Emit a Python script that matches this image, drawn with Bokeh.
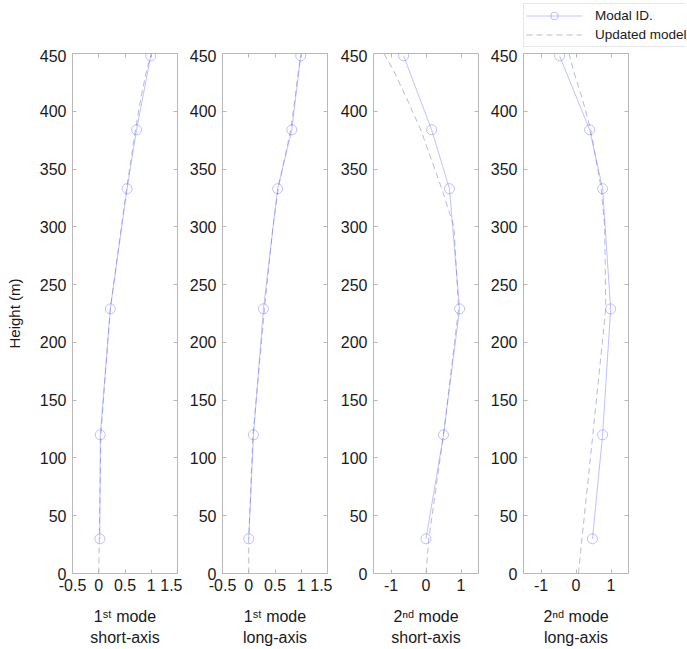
from bokeh.plotting import figure
from bokeh.layouts import row, column
from bokeh.models import (LinearAxis, Range1d, Legend, LegendItem,
                          FixedTicker, CustomJSTickFormatter, CustomLabelingPolicy)
from bokeh.embed import file_html
from bokeh.resources import INLINE

# ---------------- data ----------------
heights_id = [30, 120, 229, 333, 384, 448]
mode1_short_id = [0.02, 0.03, 0.22, 0.54, 0.72, 0.99]
mode1_long_id = [0.00, 0.09, 0.28, 0.55, 0.82, 0.99]
mode2_short_id = [0.00, 0.50, 0.96, 0.67, 0.16, -0.64]
mode2_long_id = [0.47, 0.76, 0.99, 0.76, 0.39, -0.47]

heights_upd = [0, 30, 120, 229, 300, 333, 384, 411, 433, 450]
mode1_short_upd = [0.00, 0.01, 0.04, 0.22, 0.43, 0.53, 0.70, 0.80, 0.90, 1.00]
mode1_long_upd = [0.00, 0.00, 0.08, 0.30, 0.46, 0.56, 0.80, 0.88, 0.94, 1.00]
mode2_short_upd = [0.00, 0.08, 0.50, 0.93, 0.80, 0.45, -0.15, -0.55, -0.89, -1.20]
mode2_long_upd = [0.07, 0.17, 0.48, 0.85, 0.82, 0.72, 0.42, 0.18, -0.05, -0.20]

y_ticks = [0, 50, 100, 150, 200, 250, 300, 350, 400, 450]
x_ticks_mode1 = [-0.5, 0, 0.5, 1, 1.5]
x_ticks_mode2 = [-1, 0, 1]
x_range_mode1 = (-0.5, 1.5)
x_range_mode2 = (-1.5, 1.5)

x_labels = ["1\u02e2\u1d57 mode\nshort-axis", "1\u02e2\u1d57 mode\nlong-axis",
            "2\u207f\u1d48 mode\nshort-axis", "2\u207f\u1d48 mode\nlong-axis"]
legend_labels = ["Modal ID.", "Updated model"]

panels = [
    dict(idv=mode1_short_id, upd=mode1_short_upd, xr=x_range_mode1, xt=x_ticks_mode1),
    dict(idv=mode1_long_id, upd=mode1_long_upd, xr=x_range_mode1, xt=x_ticks_mode1),
    dict(idv=mode2_short_id, upd=mode2_short_upd, xr=x_range_mode2, xt=x_ticks_mode2),
    dict(idv=mode2_long_id, upd=mode2_long_upd, xr=x_range_mode2, xt=x_ticks_mode2),
]

FONT = "Liberation Sans"
TXT = "#1a1a1a"
BOX = "#b8b8b8"
ID_COLOR = "#6a6aff"
UPD_COLOR = "#8080c0"
ID_ALPHA = 0.42
UPD_ALPHA = 0.55

left_borders = [72, 40, 41, 40]
right_borders = [5, 5, 5, 53]

NO_LABELS = CustomLabelingPolicy(code="""
const arr = Array.from(indices);
for (const i of arr) { indices.unset(i); }
return indices;
""")


def style_axis(ax, labels=True):
    ax.axis_line_color = None
    ax.major_tick_line_color = BOX
    ax.major_tick_in = 4
    ax.major_tick_out = 0
    ax.minor_tick_line_color = None
    ax.major_label_text_font = FONT
    ax.major_label_text_color = TXT
    if labels:
        ax.major_label_text_font_size = "16px"
    else:
        ax.major_label_policy = NO_LABELS
        ax.major_label_text_font_size = "1px"
        ax.major_label_standoff = 0


figs = []
for i, pn in enumerate(panels):
    p = figure(output_backend="svg", toolbar_location=None,
               frame_width=105, frame_height=520,
               x_range=Range1d(*pn["xr"]), y_range=Range1d(0, 450),
               min_border_left=left_borders[i], min_border_right=right_borders[i],
               min_border_top=0, min_border_bottom=76,
               x_axis_location=None, y_axis_location=None)
    p.grid.visible = False
    p.outline_line_color = BOX
    p.background_fill_color = "white"
    p.border_fill_color = "white"

    fmt = CustomJSTickFormatter(code="return String(tick);")
    xa = LinearAxis(ticker=FixedTicker(ticks=pn["xt"]), formatter=fmt)
    ya = LinearAxis(ticker=FixedTicker(ticks=y_ticks))
    style_axis(xa)
    style_axis(ya)
    xa.major_label_standoff = 5
    ya.major_label_standoff = 6
    xa.axis_label = x_labels[i]
    xa.axis_label_text_font = FONT
    xa.axis_label_text_font_size = "16px"
    xa.axis_label_text_font_style = "normal"
    xa.axis_label_text_color = TXT
    xa.axis_label_standoff = 14
    xa.axis_label_text_line_height = 1.25
    if i == 0:
        ya.axis_label = "Height (m)"
        ya.axis_label_text_font = FONT
        ya.axis_label_text_font_size = "15px"
        ya.axis_label_text_font_style = "normal"
        ya.axis_label_text_color = TXT
        ya.axis_label_standoff = 14
    p.add_layout(xa, "below")
    p.add_layout(ya, "left")

    xt = LinearAxis(ticker=FixedTicker(ticks=pn["xt"]))
    yr = LinearAxis(ticker=FixedTicker(ticks=y_ticks))
    style_axis(xt, labels=False)
    style_axis(yr, labels=False)
    p.add_layout(xt, "above")
    p.add_layout(yr, "right")

    p.line(pn["upd"], heights_upd, line_color=UPD_COLOR,
           line_dash="6 4", line_width=1, line_alpha=UPD_ALPHA)
    p.line(pn["idv"], heights_id, line_color=ID_COLOR, line_width=1, line_alpha=ID_ALPHA)
    p.scatter(pn["idv"], heights_id, marker="circle", size=10,
              fill_color=None, line_color=ID_COLOR, line_alpha=ID_ALPHA)
    figs.append(p)

# ---------- legend strip above the panels ----------
# Its renderers hold real series data but the view window is kept off the data,
# so only the legend (with its glyph samples) is visible.
lf = figure(output_backend="svg", toolbar_location=None,
            frame_width=166, frame_height=49,
            min_border_left=520, min_border_right=0,
            min_border_top=0, min_border_bottom=0,
            x_range=Range1d(0, 1), y_range=Range1d(-2000, -1000),
            x_axis_location=None, y_axis_location=None)
lf.grid.visible = False
lf.outline_line_color = None
lf.border_fill_color = "white"
lf.background_fill_color = "white"
r_id_line = lf.line(mode2_long_id, heights_id, line_color=ID_COLOR, line_width=1,
                    line_alpha=ID_ALPHA)
r_id_pts = lf.scatter(mode2_long_id, heights_id, marker="circle", size=10, fill_color=None,
                      line_color=ID_COLOR, line_alpha=ID_ALPHA)
r_upd = lf.line(mode2_long_upd, heights_upd, line_color=UPD_COLOR, line_dash="6 4",
                line_width=1, line_alpha=UPD_ALPHA)
legend = Legend(items=[LegendItem(label=legend_labels[0], renderers=[r_id_line, r_id_pts]),
                       LegendItem(label=legend_labels[1], renderers=[r_upd])],
                location="top_left", orientation="vertical",
                padding=2, spacing=0, margin=3,
                glyph_width=56, glyph_height=19, label_height=19,
                label_standoff=13,
                label_text_font=FONT, label_text_font_size="13.5px",
                label_text_color=TXT,
                border_line_color="#d0d0d0", background_fill_color="white",
                background_fill_alpha=1.0)
lf.add_layout(legend, "center")

layout = column(lf, row(*figs, spacing=0), spacing=0)
open("out.html", "w").write(file_html(layout, INLINE))
